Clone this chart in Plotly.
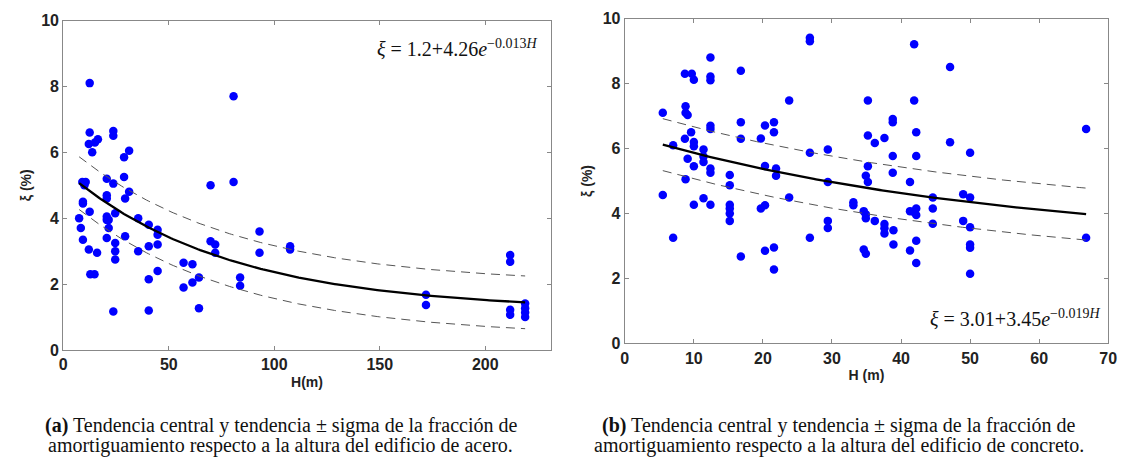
import numpy as np
import plotly.graph_objects as go

# ---- Data: (a) acero ----
H_acero = [7.5, 8.3, 9.3, 9.0, 10.6, 9.3, 9.3, 10.0, 12.5, 12.5, 12.1, 12.5, 12.1, 12.8, 14.8,
           13.7, 15.0, 16.4, 16.0, 20.6, 20.6, 20.6, 20.6, 20.6, 20.6, 21.5, 21.5, 23.7, 23.7,
           23.7, 23.7, 24.6, 24.6, 24.6, 24.6, 28.8, 28.8, 31.2, 29.3, 31.2, 29.3, 35.5, 35.5,
           40.5, 40.5, 40.5, 40.5, 44.7, 44.7, 44.7, 44.7, 57.0, 57.0, 61.2, 61.2, 64.3, 64.3,
           69.8, 69.8, 72.0, 72.0, 80.7, 80.7, 83.8, 83.8, 93.0, 93.0, 107.5, 107.5,
           171.9, 171.9, 211.8, 211.8, 211.8, 211.8, 218.9, 218.9, 218.9, 218.9]
xi_acero = [4.0, 3.7, 3.35, 5.1, 5.1, 4.5, 4.45, 5.0, 8.1, 6.6, 6.25, 4.2, 3.05, 2.3, 2.3,
            6.0, 6.3, 6.4, 2.95, 5.2, 4.7, 4.6, 4.05, 3.95, 3.4, 3.7, 3.95, 6.65, 6.5,
            5.05, 1.17, 4.15, 3.25, 3.0, 2.75, 5.25, 5.85, 6.05, 4.6, 4.8, 3.45, 4.0, 3.0,
            3.8, 3.15, 2.15, 1.2, 3.65, 3.5, 3.2, 2.4, 2.65, 1.9, 2.6, 2.05, 2.2, 1.27,
            5.0, 3.3, 3.2, 2.95, 7.7, 5.1, 2.2, 1.95, 3.6, 2.95, 3.15, 3.05,
            1.68, 1.37, 2.88, 2.68, 1.22, 1.07, 1.41, 1.27, 1.14, 1.0]

# ---- Data: (b) concreto ----
H_concreto = [5.5, 5.5, 7.0, 7.0, 8.7, 9.7, 10.0, 8.8, 8.8, 9.1, 8.7, 9.6, 10.0, 10.0, 9.1,
              8.8, 10.0, 10.0, 11.4, 11.4, 11.4, 11.4, 12.4, 12.4, 12.4, 12.4, 12.4, 12.4,
              12.4, 12.4, 15.2, 15.2, 15.2, 15.2, 15.2, 15.2, 16.8, 16.8, 16.8, 16.8, 19.7,
              19.7, 20.3, 20.3, 20.3, 20.3, 21.6, 21.6, 21.9, 21.9, 21.6, 21.6, 23.8, 23.8,
              26.8, 26.8, 26.8, 26.8, 29.4, 29.4, 29.4, 29.4, 33.1, 33.1,
              41.9, 47.1, 35.2, 41.9, 38.8, 38.8, 35.2, 36.2, 37.6, 42.2, 47.1, 50.0, 38.8,
              42.2, 35.2, 34.9, 35.2, 38.8, 41.3, 49.0, 50.0, 44.6, 44.6, 34.6, 34.9, 34.9,
              36.2, 37.6, 37.6, 37.6, 38.9, 41.3, 41.8, 42.2, 42.2, 44.6, 49.0, 50.0, 38.9,
              42.2, 41.3, 34.6, 34.9, 42.2, 50.0, 50.0, 50.0, 66.8, 66.8]
xi_concreto = [7.1, 4.57, 6.1, 3.25, 8.3, 8.3, 8.12, 7.3, 7.1, 7.03, 6.3, 6.5, 6.2, 6.07, 5.68,
               5.05, 5.45, 4.27, 5.97, 5.75, 5.58, 4.47, 8.8, 8.22, 8.1, 6.7, 6.6, 5.38,
               5.25, 4.27, 5.18, 4.87, 4.27, 4.15, 4.0, 3.77, 8.39, 6.81, 6.3, 2.67, 6.31,
               4.15, 4.25, 6.71, 5.46, 2.85, 6.81, 6.5, 5.38, 5.16, 2.95, 2.27, 7.48, 4.49,
               9.41, 9.3, 5.87, 3.25, 5.97, 4.97, 3.77, 3.55, 4.34, 4.25,
               9.21, 8.51, 7.48, 7.48, 6.91, 6.81, 6.4, 6.17, 6.32, 6.5, 6.19, 5.87, 5.77,
               5.77, 5.45, 5.16, 4.97, 5.25, 4.97, 4.59, 4.49, 4.49, 4.15, 4.07, 3.97, 3.85,
               3.77, 3.67, 3.54, 3.38, 3.48, 4.07, 4.05, 4.15, 3.95, 3.68, 3.77, 3.57, 3.04,
               3.16, 2.86, 2.89, 2.76, 2.47, 3.04, 2.94, 2.14, 6.6, 3.25]

# fit parameters read from the equations
fit_a = (1.2, 4.26, 0.013)
fit_b = (3.01, 3.45, 0.019)
sigma_a = 0.8
sigma_b = 0.8

x_ticks_a = [0, 50, 100, 150, 200]
x_ticks_b = [0, 10, 20, 30, 40, 50, 60, 70]
y_ticks = [0, 2, 4, 6, 8, 10]

caption_a = ["<b>(a)</b> Tendencia central y tendencia ± sigma de la fracción de",
             "amortiguamiento respecto a la altura del edificio de acero."]
caption_b = ["<b>(b)</b> Tendencia central y tendencia ± sigma de la fracción de",
             "amortiguamiento respecto a la altura del edificio de concreto."]
eq_a = "<i>ξ</i> = 1.2+4.26<i>e</i><sup>−0.013<i>H</i></sup>"
eq_b = "<i>ξ</i> = 3.01+3.45<i>e</i><sup>−0.019<i>H</i></sup>"

W, Hh = 1135, 465
fig = go.Figure()

def add_panel(Hs, xis, fit, sig, xa, ya):
    hmin, hmax = min(Hs), max(Hs)
    hh = np.linspace(hmin, hmax, 200)
    yy = fit[0] + fit[1] * np.exp(-fit[2] * hh)
    fig.add_trace(go.Scatter(x=Hs, y=xis, mode="markers", xaxis=xa, yaxis=ya,
                             marker=dict(color="#0000ff", size=8.5), showlegend=False))
    for s in (sig, -sig):
        fig.add_trace(go.Scatter(x=hh, y=yy + s, mode="lines", xaxis=xa, yaxis=ya,
                                 line=dict(color="#555555", width=1, dash="9px,6px"),
                                 showlegend=False))
    fig.add_trace(go.Scatter(x=hh, y=yy, mode="lines", xaxis=xa, yaxis=ya,
                             line=dict(color="black", width=2.3), showlegend=False))

add_panel(H_acero, xi_acero, fit_a, sigma_a, "x", "y")
add_panel(H_concreto, xi_concreto, fit_b, sigma_b, "x2", "y2")

tickfont = dict(family="Liberation Sans", size=16, color="#222", weight="bold")
common = dict(showline=True, linecolor="#888888", linewidth=1.2, mirror="ticks",
              ticks="inside", ticklen=4, tickcolor="#888888", showgrid=False,
              zeroline=False, tickfont=tickfont)
titlefont = dict(family="Liberation Sans", size=14, color="#222", weight="bold")

fig.update_layout(
    width=W, height=Hh, margin=dict(l=0, r=0, t=0, b=0),
    paper_bgcolor="white", plot_bgcolor="white",
    xaxis=dict(domain=[60 / W, 553 / W], range=[0, 231], tickvals=x_ticks_a,
               title=dict(text="H(m)", font=titlefont, standoff=4), anchor="y", **common),
    yaxis=dict(domain=[1 - 355 / Hh, 1 - 13 / Hh], range=[0, 10], tickvals=y_ticks,
               title=dict(text="ξ (%)", font=titlefont, standoff=6), anchor="x", **common),
    xaxis2=dict(domain=[628 / W, 1117 / W], range=[0, 70], tickvals=x_ticks_b,
                title=dict(text="H (m)", font=titlefont, standoff=4), anchor="y2", **common),
    yaxis2=dict(domain=[1 - 348 / Hh, 1 - 11 / Hh], range=[0, 10], tickvals=y_ticks,
                title=dict(text="ξ (%)", font=titlefont, standoff=6), anchor="x2", **common),
)

capfont = dict(family="Liberation Serif", size=20, color="#111")
eqfont = dict(family="Liberation Serif", size=20, color="#111")
for cap, cx in ((caption_a, 280), (caption_b, 845)):
    for line, cy in zip(cap, (433, 454)):
        fig.add_annotation(text=line, xref="paper", yref="paper", x=cx / W, y=1 - cy / Hh,
                           showarrow=False, font=capfont, xanchor="center", yanchor="middle")
fig.add_annotation(text=eq_a, xref="paper", yref="paper", x=541 / W, y=1 - 41 / Hh,
                   showarrow=False, font=eqfont, xanchor="right", yanchor="middle")
fig.add_annotation(text=eq_b, xref="paper", yref="paper", x=1111 / W, y=1 - 322 / Hh,
                   showarrow=False, font=eqfont, xanchor="right", yanchor="middle")

fig.write_html("out.html")
